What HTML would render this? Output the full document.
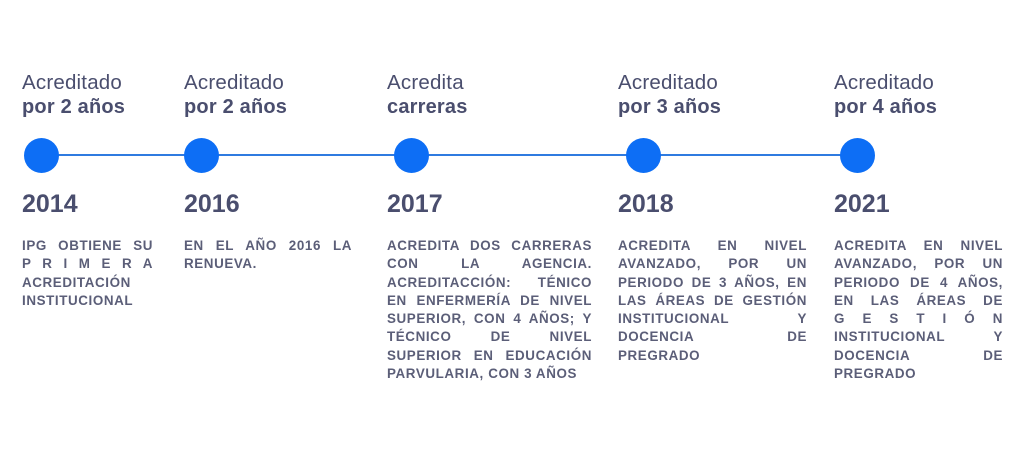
<!DOCTYPE html>
<html><head><meta charset="utf-8"><style>
body{margin:0;width:1024px;height:474px;background:#fff;position:relative;overflow:hidden;font-family:"Liberation Sans",sans-serif;}
.line{position:absolute;left:41px;width:816px;top:154px;height:2px;background:#2f7be0;}
.dot{position:absolute;top:138px;width:35px;height:35px;border-radius:50%;background:#0d6ef5;}
.col{position:absolute;top:71px;color:#4a4e6e;}
.t1{font-size:20.5px;line-height:24px;white-space:nowrap;letter-spacing:0.2px;}
.t2{font-size:20px;line-height:24px;font-weight:bold;white-space:nowrap;letter-spacing:0.2px;}
.yr{position:absolute;top:118px;font-size:25px;font-weight:bold;line-height:30px;}
.body{position:absolute;top:166px;font-size:13.4px;font-weight:bold;color:#5b5e78;letter-spacing:0.6px;}
.body div{height:18.3px;line-height:18.3px;text-align:justify;text-align-last:justify;white-space:nowrap;}
.body div.l{text-align-last:left;}
</style></head><body>
<div class="line"></div>
<div class="dot" style="left:24px"></div>
<div class="dot" style="left:184px"></div>
<div class="dot" style="left:394px"></div>
<div class="dot" style="left:626px"></div>
<div class="dot" style="left:840px"></div>

<div class="col" style="left:22px;width:131px">
<div class="t1">Acreditado</div><div class="t2">por 2 años</div>
<div class="yr">2014</div>
<div class="body" style="width:131px">
<div>IPG OBTIENE SU</div><div>P R I M E R A</div><div>ACREDITACIÓN</div><div class="l">INSTITUCIONAL</div>
</div></div>

<div class="col" style="left:184px;width:168px">
<div class="t1">Acreditado</div><div class="t2">por 2 años</div>
<div class="yr">2016</div>
<div class="body" style="width:168px">
<div>EN EL AÑO 2016 LA</div><div class="l">RENUEVA.</div>
</div></div>

<div class="col" style="left:387px;width:205px">
<div class="t1">Acredita</div><div class="t2">carreras</div>
<div class="yr">2017</div>
<div class="body" style="width:205px">
<div>ACREDITA DOS CARRERAS</div><div>CON LA AGENCIA.</div><div>ACREDITACCIÓN: TÉNICO</div><div>EN ENFERMERÍA DE NIVEL</div><div>SUPERIOR, CON 4 AÑOS; Y</div><div>TÉCNICO DE NIVEL</div><div>SUPERIOR EN EDUCACIÓN</div><div class="l">PARVULARIA, CON 3 AÑOS</div>
</div></div>

<div class="col" style="left:618px;width:189px">
<div class="t1">Acreditado</div><div class="t2">por 3 años</div>
<div class="yr">2018</div>
<div class="body" style="width:189px">
<div>ACREDITA EN NIVEL</div><div>AVANZADO, POR UN</div><div>PERIODO DE 3 AÑOS, EN</div><div>LAS ÁREAS DE GESTIÓN</div><div>INSTITUCIONAL Y</div><div>DOCENCIA DE</div><div class="l">PREGRADO</div>
</div></div>

<div class="col" style="left:834px;width:169px">
<div class="t1">Acreditado</div><div class="t2">por 4 años</div>
<div class="yr">2021</div>
<div class="body" style="width:169px">
<div>ACREDITA EN NIVEL</div><div>AVANZADO, POR UN</div><div>PERIODO DE 4 AÑOS,</div><div>EN LAS ÁREAS DE</div><div>G E S T I Ó N</div><div>INSTITUCIONAL Y</div><div>DOCENCIA DE</div><div class="l">PREGRADO</div>
</div></div>
</body></html>
